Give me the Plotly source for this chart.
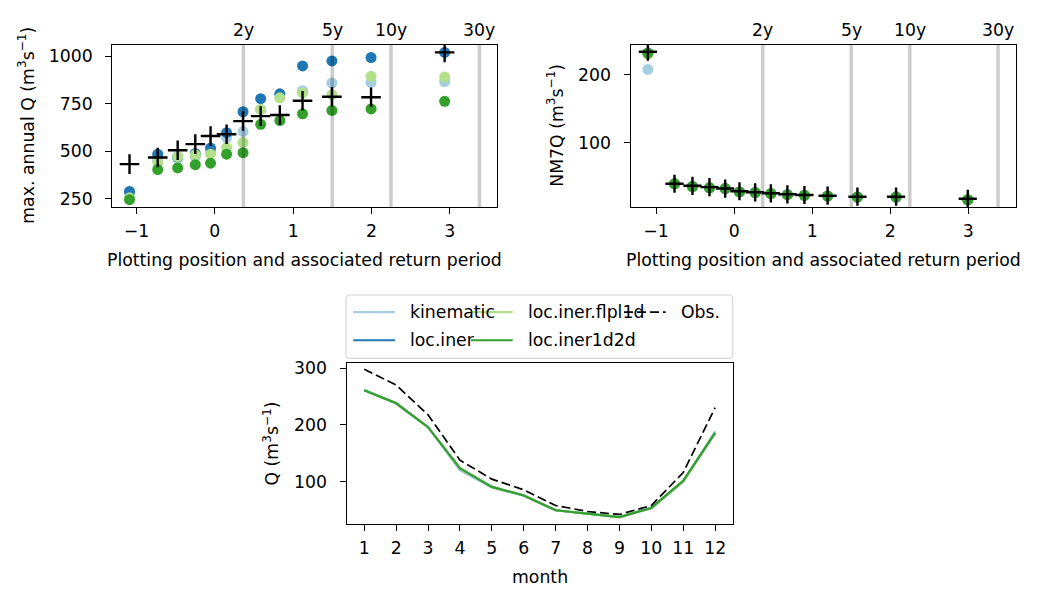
import plotly.graph_objects as go

W, H = 1059, 589
def px(x):
    return x / W
def py(y):
    return 1 - y / H

FONT = "DejaVu Sans"
FS = 17.3

# ---------------- data ----------------
series_names = ["kinematic", "loc.iner", "loc.iner.flpl1d", "loc.iner1d2d"]
series_colors = ["#a6cee3", "#1f78b4", "#b2df8a", "#33a02c"]

# return period reference lines (plotting position) and labels
rp_pos = [0.365, 1.50, 2.25, 3.38]
rp_labels = ["2y", "5y", "10y", "30y"]

# panel 1: annual maxima
pp_max = [-1.09, -0.73, -0.475, -0.25, -0.055, 0.15, 0.36, 0.585, 0.83, 1.12, 1.495, 1.995, 2.935]
max_obs = [432, 467, 505, 537, 580, 589, 658, 684, 690, 765, 786, 783, 1019]
max_kinematic = [275, 452, 458, 471, 502, 571, 603, 719, 792, 818, 858, 861, 866]
max_lociner = [288, 484, 470, 488, 516, 597, 707, 776, 801, 948, 974, 992, 1019]
max_flpl1d = [255, 440, 471, 481, 484, 519, 545, 719, 780, 806, 797, 893, 889]
max_iner1d2d = [245, 403, 412, 429, 437, 484, 492, 641, 661, 696, 714, 722, 762]

# panel 2: NM7Q
pp_nm7 = [-1.105, -0.764, -0.534, -0.316, -0.115, 0.068, 0.269, 0.470, 0.682, 0.900, 1.197, 1.579, 2.074, 2.992]
nm7_obs = [234, 40, 37, 35, 33, 29, 27.5, 26, 24.5, 23.5, 22.5, 21, 21, 18]
nm7_kinematic = [208, 40, 36, 34, 33, 28, 27, 25.5, 24, 23, 22, 20.5, 20.5, 16.5]
nm7_lociner = [232, 40, 36, 34, 33, 28, 27, 25.5, 24, 23, 22, 20.5, 20.5, 16.5]
nm7_flpl1d = [230, 40, 36, 34, 33, 28, 27, 25.5, 24, 23, 22, 20.5, 20.5, 16.5]
nm7_iner1d2d = [232, 40, 36, 34, 33, 28, 27, 25.5, 24, 23, 22, 20.5, 20.5, 16.5]

# panel 3: mean monthly discharge
months = [1, 2, 3, 4, 5, 6, 7, 8, 9, 10, 11, 12]
mon_obs = [297.7, 270, 217.7, 138, 104.7, 86, 58.3, 47.8, 42.6, 58.3, 116.3, 230.4]
mon_kinematic = [261, 238, 196, 120, 90, 76, 50, 44, 38, 55, 100, 189]
mon_lociner = [261, 238, 196, 123, 91, 76, 50, 44, 38, 54, 101, 186]
mon_flpl1d = [261, 238, 196, 123, 91, 76, 50, 44, 38, 54, 101, 186]
mon_iner1d2d = [261, 238, 196, 124, 91, 76, 50, 44, 38, 54, 102, 186]

max_series = [max_kinematic, max_lociner, max_flpl1d, max_iner1d2d]
nm7_series = [nm7_kinematic, nm7_lociner, nm7_flpl1d, nm7_iner1d2d]
mon_series = [mon_kinematic, mon_lociner, mon_flpl1d, mon_iner1d2d]

# ---------------- figure ----------------
fig = go.Figure()

for name, col, ys in zip(series_names, series_colors, max_series):
    fig.add_trace(go.Scatter(x=pp_max, y=ys, mode="markers", name=name,
                             marker=dict(color=col, size=11, line=dict(width=0)),
                             xaxis="x", yaxis="y", showlegend=False))
fig.add_trace(go.Scatter(x=pp_max, y=max_obs, mode="markers", name="Obs.",
                         marker=dict(symbol="cross-thin", size=14, line=dict(color="black", width=2.4)),
                         xaxis="x", yaxis="y", showlegend=False))

for name, col, ys in zip(series_names, series_colors, nm7_series):
    fig.add_trace(go.Scatter(x=pp_nm7, y=ys, mode="markers", name=name,
                             marker=dict(color=col, size=11, line=dict(width=0)),
                             xaxis="x2", yaxis="y2", showlegend=False))
fig.add_trace(go.Scatter(x=pp_nm7, y=nm7_obs, mode="markers", name="Obs.",
                         marker=dict(symbol="cross-thin", size=13, line=dict(color="black", width=2.4)),
                         xaxis="x2", yaxis="y2", showlegend=False))

for name, col, ys in zip(series_names, series_colors, mon_series):
    fig.add_trace(go.Scatter(x=months, y=ys, mode="lines", name=name,
                             line=dict(color=col, width=2.2),
                             xaxis="x3", yaxis="y3", showlegend=False))
fig.add_trace(go.Scatter(x=months, y=mon_obs, mode="lines", name="Obs.",
                         line=dict(color="black", width=1.7, dash="9px,4px"),
                         xaxis="x3", yaxis="y3", showlegend=False))

axis_common = dict(showline=True, mirror=True, linecolor="black", linewidth=1.3,
                   ticks="outside", ticklen=6, tickwidth=1.3, tickcolor="black",
                   showgrid=False, zeroline=False,
                   tickfont=dict(family=FONT, size=FS, color="black"))

fig.update_layout(
    width=W, height=H,
    margin=dict(l=0, r=0, t=0, b=0),
    paper_bgcolor="white", plot_bgcolor="white",
    font=dict(family=FONT, size=FS, color="black"),
    showlegend=False,
    xaxis=dict(domain=[px(112.3), px(496.7)], range=[-1.31, 3.60], tickvals=[-1, 0, 1, 2, 3],
               anchor="y", ticklabelstandoff=2, **axis_common),
    yaxis=dict(domain=[py(205), py(41)], range=[207, 1060], tickvals=[250, 500, 750, 1000],
               anchor="x", ticklabelstandoff=9, **axis_common),
    xaxis2=dict(domain=[px(630.7), px(1016)], range=[-1.325, 3.61], tickvals=[-1, 0, 1, 2, 3],
                anchor="y2", ticklabelstandoff=2, **axis_common),
    yaxis2=dict(domain=[py(205), py(41)], range=[6, 244.5], tickvals=[100, 200],
                anchor="x2", ticklabelstandoff=9, **axis_common),
    xaxis3=dict(domain=[px(346.7), px(732.7)], range=[0.45, 12.55], tickvals=months,
                anchor="y3", ticklabelstandoff=2, **axis_common),
    yaxis3=dict(domain=[py(525.7), py(362.3)], range=[25.2, 309.5], tickvals=[100, 200, 300],
                anchor="x3", ticklabelstandoff=9, **axis_common),
)

shapes = []
annotations = []
for xa, ya in [("x", "y"), ("x2", "y2")]:
    for pos, lab in zip(rp_pos, rp_labels):
        shapes.append(dict(type="line", xref=xa, yref=ya + " domain", x0=pos, x1=pos, y0=0, y1=1,
                           line=dict(color="rgba(0,0,0,0.2)", width=3.5), layer="above"))
        annotations.append(dict(xref=xa, yref=ya + " domain", x=pos, y=1, text=lab, showarrow=False,
                                xanchor="center", yanchor="bottom", yshift=3,
                                font=dict(family=FONT, size=FS, color="black")))

# axis titles
def title(text, x, y, angle=0):
    annotations.append(dict(xref="paper", yref="paper", x=px(x), y=py(y), text=text, showarrow=False,
                            xanchor="center", yanchor="middle", textangle=angle,
                            font=dict(family=FONT, size=FS, color="black")))

title("Plotting position and associated return period", 304.5, 259)
title("Plotting position and associated return period", 823.4, 259)
title("month", 539.7, 579)
title("max. annual Q (m<sup>3</sup>s<sup>−1</sup>)", 26, 123, -90)
title("NM7Q (m<sup>3</sup>s<sup>−1</sup>)", 555, 123, -90)
title("Q (m<sup>3</sup>s<sup>−1</sup>)", 271, 444, -90)

# manual legend (matplotlib-style box above bottom panel)
lx0, lx1, ly0, ly1, r = 346, 732.7, 294, 358, 4
path = (f"M {px(lx0 + r)},{py(ly0)} L {px(lx1 - r)},{py(ly0)} "
        f"Q {px(lx1)},{py(ly0)} {px(lx1)},{py(ly0 + r)} L {px(lx1)},{py(ly1 - r)} "
        f"Q {px(lx1)},{py(ly1)} {px(lx1 - r)},{py(ly1)} L {px(lx0 + r)},{py(ly1)} "
        f"Q {px(lx0)},{py(ly1)} {px(lx0)},{py(ly1 - r)} L {px(lx0)},{py(ly0 + r)} "
        f"Q {px(lx0)},{py(ly0)} {px(lx0 + r)},{py(ly0)} Z")
shapes.append(dict(type="path", xref="paper", yref="paper", path=path,
                   line=dict(color="#d6d6d6", width=1.2), fillcolor="rgba(255,255,255,0.8)", layer="above"))

legend_names = series_names + ["Obs."]
legend_colors = series_colors + ["black"]
legend_dash = ["solid"] * 4 + ["9px,4px"]
legend_width = [2.2] * 4 + [1.7]
col_handle_x = [353.3, 471, 624]
col_text_x = [408, 525.7, 678.7]
row_y = [311.3, 339.7]
entries = []
for i, nm in enumerate(legend_names):
    col, row = i // 2, i % 2
    entries.append((col, row, nm, legend_colors[i], legend_dash[i], legend_width[i]))
for col, row, nm, c, d, w in entries:
    annotations.append(dict(xref="paper", yref="paper", x=px(col_text_x[col]), y=py(row_y[row]),
                            text=nm, showarrow=False, xanchor="left", yanchor="middle",
                            font=dict(family=FONT, size=FS, color="black")))
for col, row, nm, c, d, w in entries:
    shapes.append(dict(type="line", xref="paper", yref="paper",
                       x0=px(col_handle_x[col]), x1=px(col_handle_x[col] + 41.7),
                       y0=py(row_y[row]), y1=py(row_y[row]),
                       line=dict(color=c, width=w, dash=d), layer="above"))

fig.update_layout(shapes=shapes, annotations=annotations)
fig.write_html("out.html",
               config={"displayModeBar": False},
               post_script="document.body.style.margin='0';document.body.style.overflow='hidden';")
